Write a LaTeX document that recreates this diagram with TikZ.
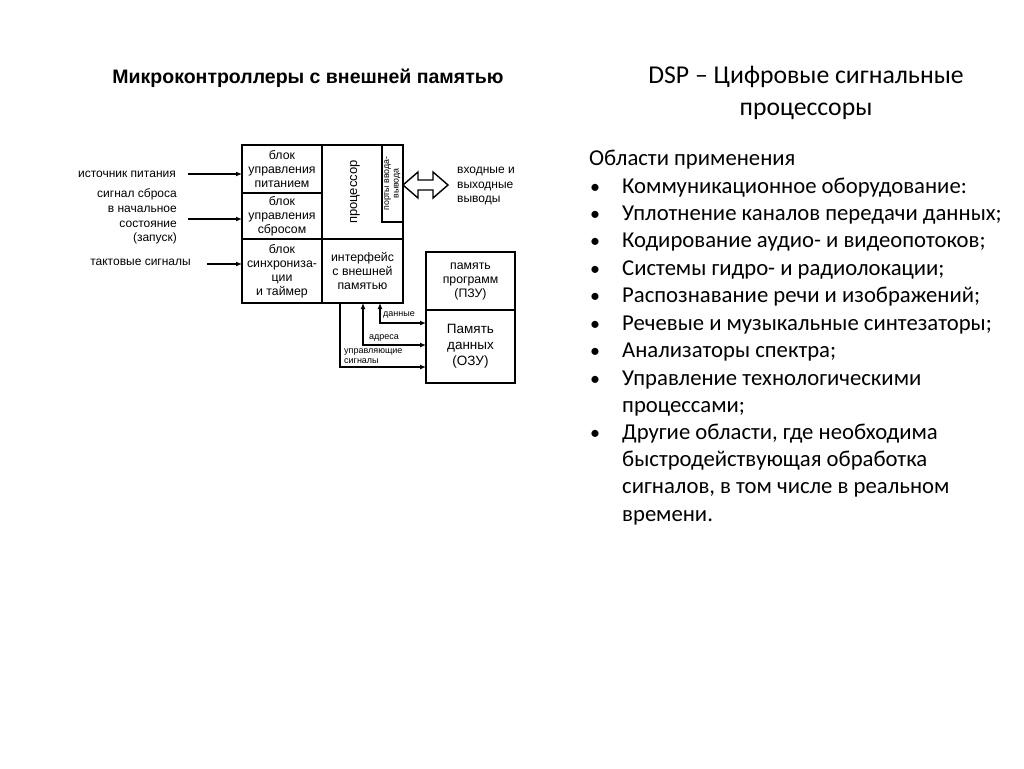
\documentclass[tikz,border=0pt]{standalone}
\usepackage{fontspec}
\setmainfont{Carlito}
\newfontfamily\scanfont{Liberation Sans}
\usetikzlibrary{arrows.meta,calc}

\tikzset{
  cell/.style={draw, line width=1.2pt, anchor=north west, inner sep=0pt, outer sep=0pt,
    align=center, font=\scanfont\fontsize{12.3}{14}\selectfont},
  side/.style={inner sep=0pt, font=\scanfont\fontsize{12}{14.7}\selectfont},
  tiny/.style={inner sep=0pt, font=\scanfont\fontsize{9}{10.5}\selectfont},
  sig/.style={line width=1.2pt, -{Latex[length=6pt,width=5pt]}},
  sigboth/.style={line width=1.2pt, {Latex[length=6pt,width=5pt]}-{Latex[length=6pt,width=5pt]}},
  itm/.style={anchor=base west, inner sep=0pt, font=\fontsize{22.7}{27}\selectfont},
  bul/.style={anchor=base, inner sep=0pt, font=\fontsize{20}{27}\selectfont}
}

\begin{document}
\begin{tikzpicture}[x=1pt,y=-1pt]
\useasboundingbox (0,0) rectangle (1024,768);

% ---------- title of the scheme ----------
\node[anchor=base, inner sep=0pt, font=\scanfont\bfseries\fontsize{19.5}{22}\selectfont] (mctitle)
  at (308,83) {Микроконтроллеры с внешней памятью};

% ---------- microcontroller ----------
\node[cell, minimum width=80, minimum height=48] (pwr) at (242,145) {блок\\управления\\питанием};
\node[cell, minimum width=80, minimum height=46] (rst) at (242,193) {блок\\управления\\сбросом};
\node[cell, minimum width=80, minimum height=64] (sync) at (242,239) {блок\\синхрониза-\\ции\\и таймер};
\node[cell, minimum width=81, minimum height=94] (cpu) at (322,145) {};
\node[cell, minimum width=21, minimum height=77] (ports) at (382,145) {};
\node[cell, minimum width=81, minimum height=64] (iface) at (322,239) {интерфейс\\с внешней\\памятью};
\node[rotate=90, inner sep=0pt, font=\scanfont\fontsize{13}{14}\selectfont] (cpulbl) at (355,192) {процессор};
\node[rotate=90, inner sep=0pt, align=center, font=\scanfont\fontsize{8.8}{9.5}\selectfont] (portslbl)
  at (ports.center) {порты ввода-\\вывода};

% ---------- external memory ----------
\node[cell, minimum width=89, minimum height=58] (rom) at (426,252) {память\\программ\\(ПЗУ)};
\node[cell, minimum width=89, minimum height=73, font=\scanfont\fontsize{13.5}{16}\selectfont] (ram)
  at (426,310) {Память\\данных\\(ОЗУ)};

% ---------- inputs ----------
\coordinate (in1) at (188,174);
\coordinate (in2) at (188,219);
\coordinate (in3) at (207,264);
\draw[sig] (in1) -- (in1 -| pwr.west);
\draw[sig] (in2) -- (in2 -| rst.west);
\draw[sig] (in3) -- (in3 -| sync.west);
\node[side, anchor=east] (srclbl) at (176,174) {источник питания};
\node[side, anchor=east, align=right] (rstlbl) at (177,216.5) {сигнал сброса\\в начальное\\состояние\\(запуск)};
\node[side, anchor=east] (clklbl) at (191,262) {тактовые сигналы};

% ---------- input/output pins ----------
\draw[line width=1.4pt, line join=miter] (ports.east) ++(0,1.5) -- ++(15,-13) -- ++(0,8) -- ++(15,0)
  -- ++(0,-8) -- ++(15,13) -- ++(-15,13) -- ++(0,-8) -- ++(-15,0) -- ++(0,8) -- cycle;
\node[side, anchor=west, align=left] (iolbl) at (457,186) {входные и\\выходные\\выводы};

% ---------- buses to memory ----------
\draw[sig] ($(iface.south west)+(18,0)$) |- ($(ram.west)+(0,20.5)$);
\draw[sigboth] ($(iface.south west)+(41,0)$) |- ($(ram.west)+(0,-1.5)$);
\draw[sigboth] ($(iface.south west)+(58,0)$) |- ($(ram.west)+(0,-23.5)$);
\node[tiny, anchor=west] (datalbl) at (383,315) {данные};
\node[tiny, anchor=west] (addrlbl) at (369,338) {адреса};
\node[tiny, anchor=west, align=left] (ctllbl) at (344,356) {управляющие\\сигналы};

% ---------- DSP ----------
\node[anchor=base, inner sep=0pt, font=\fontsize{25.7}{30}\selectfont] (dsp1) at (806,83) {DSP – Цифровые сигнальные};
\node[anchor=base, inner sep=0pt, font=\fontsize{25.7}{30}\selectfont] (dsp2) at (806,115) {процессоры};

\node[itm] (areas) at (589,165) {Области применения};
\foreach \yy in {193,220,247,275,302,330,357,385,439}
  \node[bul] (b\yy) at (595,\yy) {•};
\foreach \yy/\txt in {193/{Коммуникационное оборудование:},
    220/{Уплотнение каналов передачи данных;},
    247/{Кодирование аудио- и видеопотоков;},
    275/{Системы гидро- и радиолокации;},
    302/{Распознавание речи и изображений;},
    330/{Речевые и музыкальные синтезаторы;},
    357/{Анализаторы спектра;},
    385/{Управление технологическими},
    412/{процессами;},
    439/{Другие области, где необходима},
    466/{быстродействующая обработка},
    493/{сигналов, в том числе в реальном},
    521/{времени.}}
  \node[itm] (t\yy) at (622,\yy) {\txt};

\end{tikzpicture}
\end{document}
